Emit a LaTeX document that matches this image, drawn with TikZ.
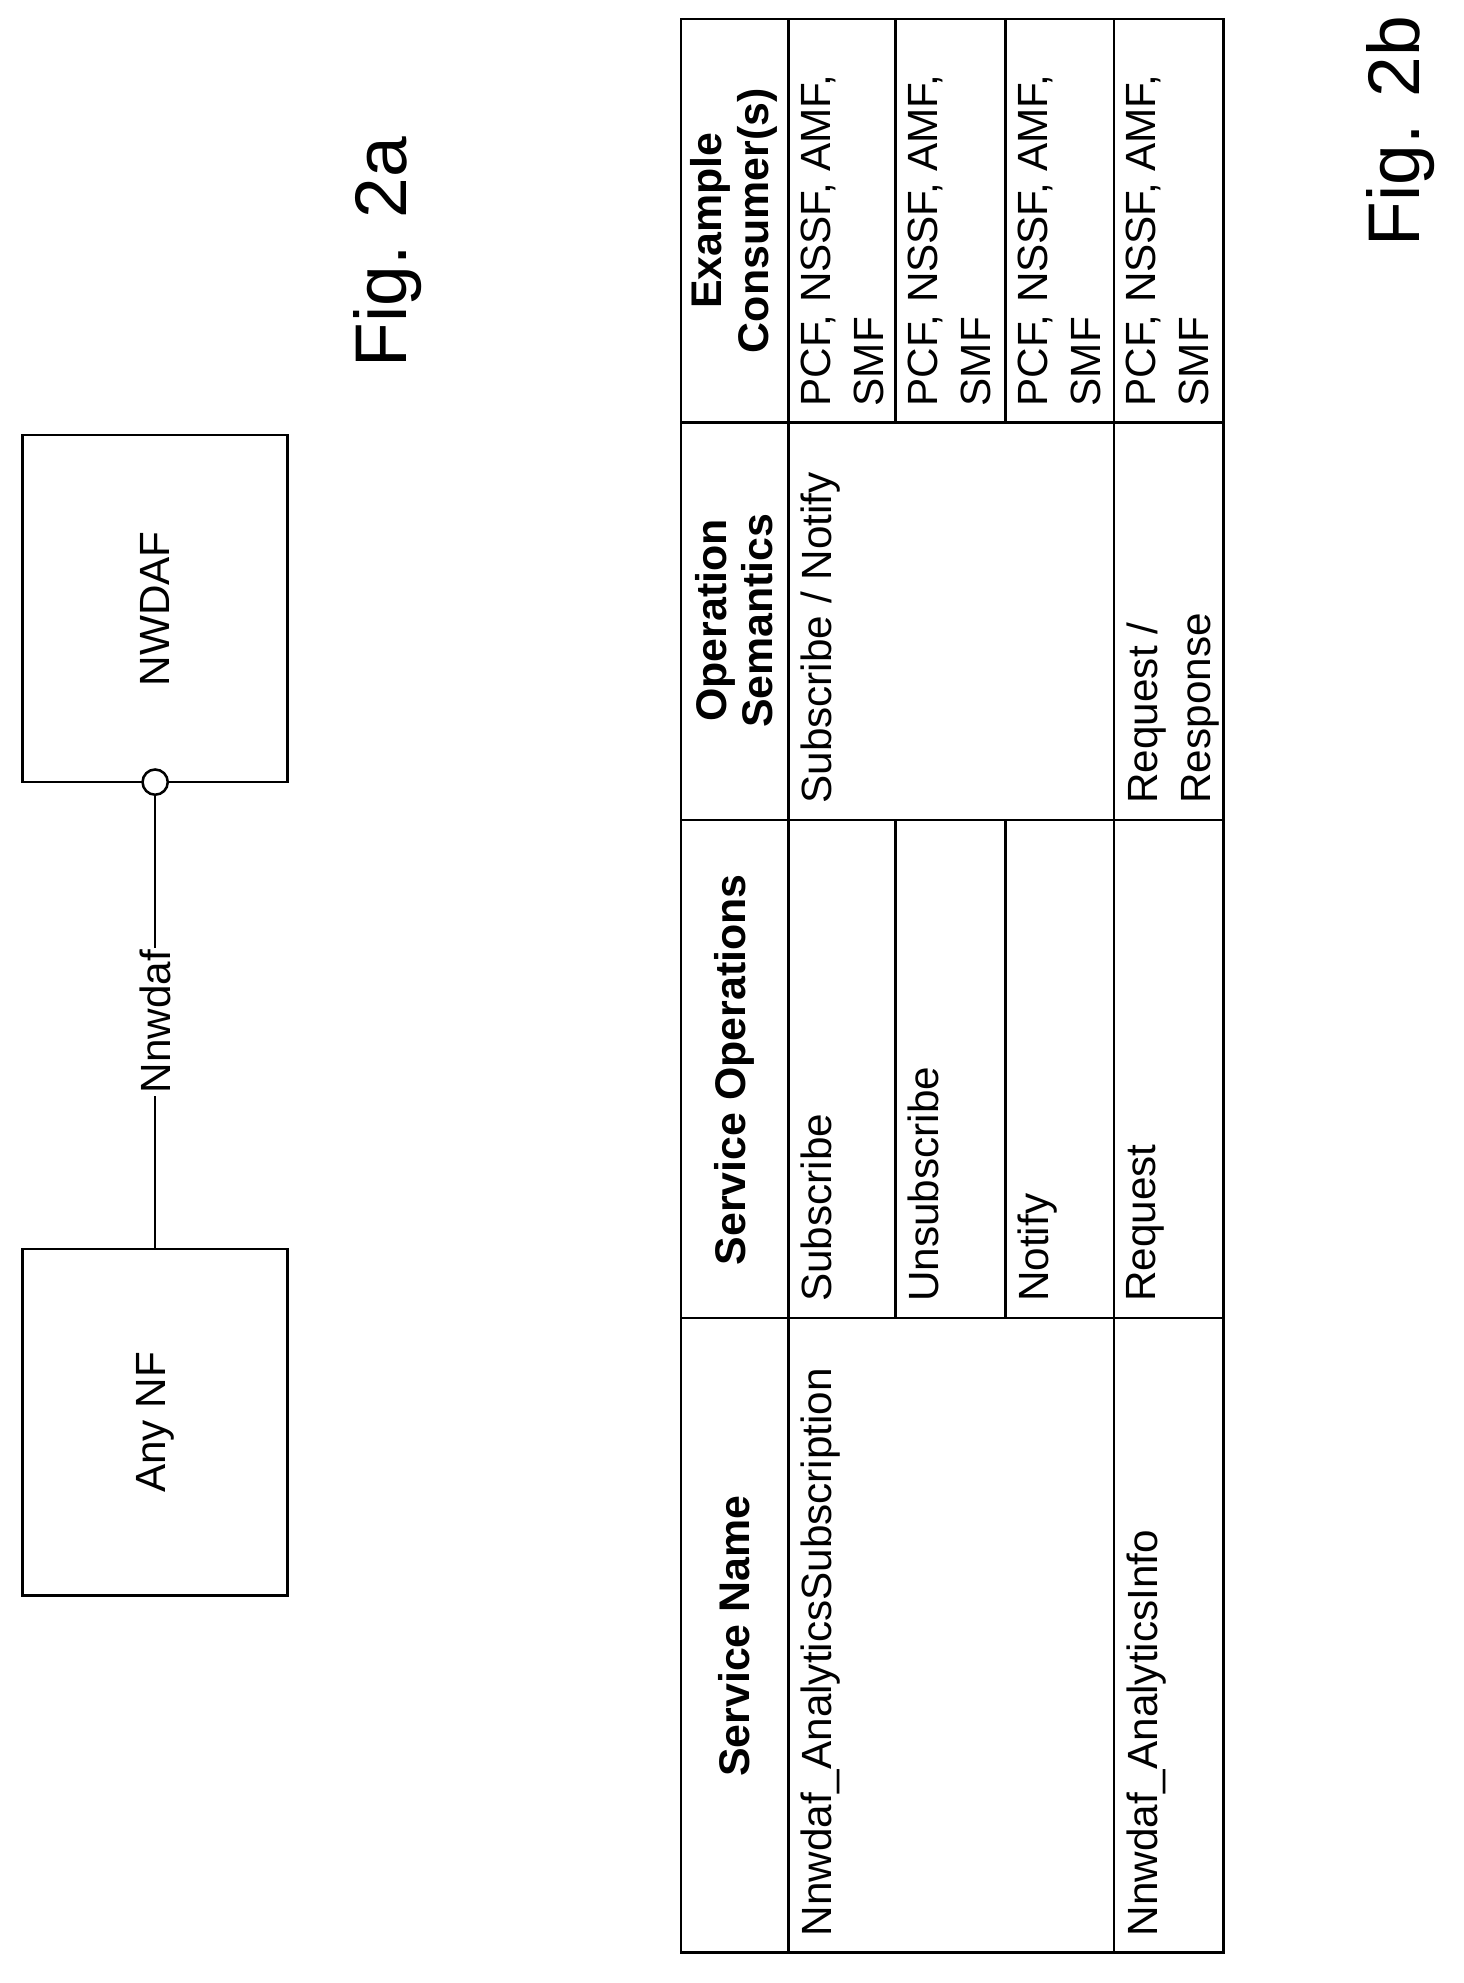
\documentclass[tikz,border=0pt]{standalone}
\usepackage{fontspec}
\setmainfont{Liberation Sans}
\begin{document}
\begin{tikzpicture}[x=1pt,y=-1pt,line width=2pt,
  box/.style={draw,minimum width=210pt,minimum height=275pt},
  rt/.style={rotate=90,font=\fontsize{33.5}{42}\selectfont,inner sep=0pt,align=left},
  cell/.style={rt,anchor=north west},
  hd/.style={rotate=90,font=\fontsize{34}{37}\selectfont\bfseries,inner sep=0pt,align=center},
  fig/.style={rotate=90,font=\fontsize{58}{60}\selectfont,inner sep=0pt}]
\useasboundingbox (0,0) rectangle (1160,1572);
% Fig 2a
\node[box] (anynf) at (123,1127.5) {};
\node[rt] (anynft) at (anynf.center) {Any NF};
\node[box] (nwdaf) at (123,482.5) {};
\node[rt] (nwdaft) at (nwdaf.center) {NWDAF};
\node[draw,circle,minimum size=20pt,inner sep=0pt,fill=white] (circ) at (123,620) {};
\draw (anynf.north) -- (circ.south) node[midway,rt,fill=white,inner sep=2pt] (lbl) {Nnwdaf};
\node[fig] (fa) at (307,200) {Fig. 2a};
\node[fig] (fb) at (1110,104) {Fig. 2b};
% table
\draw (540,15) rectangle (970,1548);
\draw (625,15) -- (625,1548);
\draw (883,15) -- (883,1548);
\draw (540,335) -- (970,335);
\draw (540,650) -- (970,650);
\draw (540,1045) -- (970,1045);
\draw (710,15) -- (710,335) (710,650) -- (710,1045);
\draw (797,15) -- (797,335) (797,650) -- (797,1045);
% headers
\node[hd] (h1) at (582,1297) {Service Name};
\node[hd] (h2) at (582,848) {Service Operations};
\node[hd] (h3) at (582,492) {Operation\\Semantics};
\node[hd] (h4) at (582,175) {Example\\Consumer(s)};
% cells
\node[cell] (c11) at (634,1536) {Nnwdaf\_AnalyticsSubscription};
\node[cell] (c12) at (634,1033) {Subscribe};
\node[cell] (c22) at (719,1033) {Unsubscribe};
\node[cell] (c32) at (806,1033) {Notify};
\node[cell] (c13) at (634,638) {Subscribe / Notify};
\node[cell] (c14) at (634,323) {PCF, NSSF, AMF,\\SMF};
\node[cell] (c24) at (719,323) {PCF, NSSF, AMF,\\SMF};
\node[cell] (c34) at (806,323) {PCF, NSSF, AMF,\\SMF};
\node[cell] (c41) at (892,1536) {Nnwdaf\_AnalyticsInfo};
\node[cell] (c42) at (892,1033) {Request};
\node[cell] (c43) at (892,638) {Request /\\Response};
\node[cell] (c44) at (892,323) {PCF, NSSF, AMF,\\SMF};
\end{tikzpicture}
\end{document}
